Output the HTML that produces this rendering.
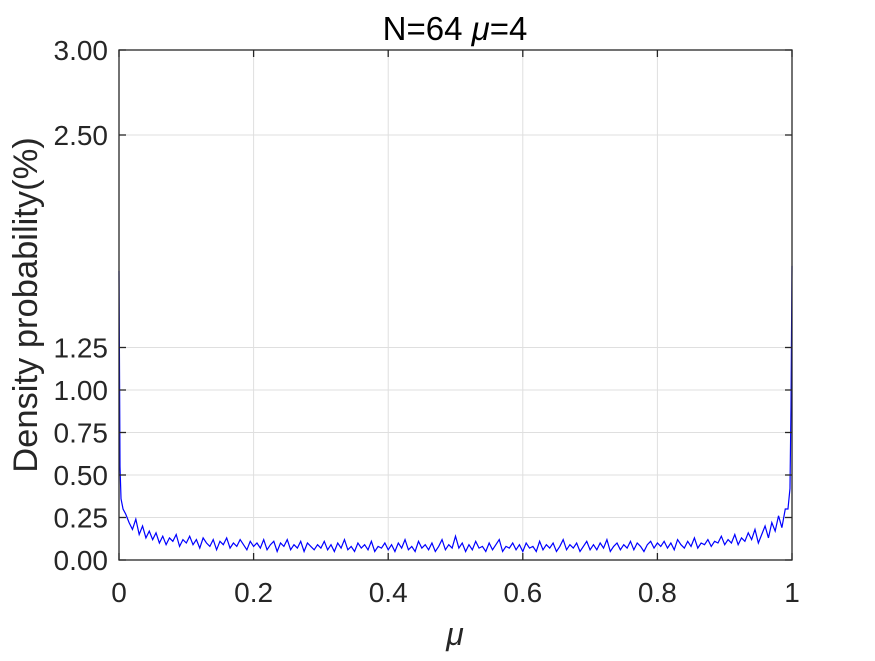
<!DOCTYPE html>
<html><head><meta charset="utf-8"><style>
body{margin:0;background:#fff;}
svg text{font-family:"Liberation Sans",sans-serif;fill:#262626;}
</style></head><body>
<svg id="chart" width="875" height="656" xmlns="http://www.w3.org/2000/svg">
<rect width="875" height="656" fill="#fff"/>
<g id="grid"></g>
<g id="series"></g>
<g id="axes"></g>
<text x="455" y="40" font-size="33" text-anchor="middle" style="fill:#000">N=64 <tspan font-style="italic">μ</tspan>=4</text>
<text x="455" y="645" font-size="32" font-style="italic" text-anchor="middle">μ</text>
<text transform="translate(37,305) rotate(-90)" font-size="34.5" text-anchor="middle">Density probability(%)</text>
</svg>
<script>
const xTicks=[0,0.2,0.4,0.6,0.8,1];
const xTickLabels=["0","0.2","0.4","0.6","0.8","1"];
const yTicks=[0,0.25,0.5,0.75,1,1.25,2.5,3];
const yTickLabels=["0.00","0.25","0.50","0.75","1.00","1.25","2.50","3.00"];
const leftEdgeX=[0,0.0015,0.003,0.006];
const leftEdgeY=[1.70,0.55,0.36,0.30];
const mainStart=0.01, mainStep=0.005;
const mainY=[.27,.22,.18,.24,.15,.20,.13,.17,.12,
.16,.10,.14,.09,.13,.11,.15,.08,.12,.10,
.14,.09,.12,.07,.13,.10,.08,.12,.06,.11,.09,.13,.07,.10,.08,.12,.09,.06,.11,.08,
.10,.07,.12,.06,.09,.11,.05,.10,.08,.12,.06,.09,.07,.11,.05,.10,.08,.06,.09,.07,
.11,.06,.09,.05,.10,.07,.12,.06,.08,.05,.10,.07,.09,.06,.11,.05,.08,.07,.10,.06,
.09,.05,.10,.07,.12,.06,.08,.05,.11,.07,.09,.06,.10,.05,.08,.12,.06,.09,.07,.14,
.07,.10,.05,.09,.06,.11,.07,.08,.05,.10,.06,.09,.12,.05,.08,.07,.10,.06,.09,.05,
.10,.07,.08,.05,.11,.06,.09,.07,.10,.05,.08,.12,.06,.09,.07,.10,.05,.08,.11,.06,
.09,.06,.10,.07,.12,.05,.08,.10,.06,.09,.07,.11,.06,.10,.08,.05,.09,.11,.07,.10,
.08,.11,.07,.10,.06,.12,.09,.07,.11,.08,.13,.07,.10,.09,.12,.08,.11,.10,.14,.09,
.12,.10,.15,.09,.13,.11,.16,.12,.18,.10,.15,.20,.13,.22,.17,.26,.19,.30];
const rightEdgeX=[0.994,0.997,0.9985,1];
const rightEdgeY=[0.30,0.42,0.90,1.73];

const L=119,R=792,T=50,B=560;
const xs=v=>L+(v-0)/(1-0)*(R-L);
const ys=v=>B-(v-0)/(3-0)*(B-T);
const NS="http://www.w3.org/2000/svg";
function mk(tag,attrs,parent){const e=document.createElementNS(NS,tag);for(const k in attrs)e.setAttribute(k,attrs[k]);parent.appendChild(e);return e;}
const grid=document.getElementById('grid'),axes=document.getElementById('axes'),series=document.getElementById('series');

xTicks.forEach((t,i)=>{
  const x=xs(t);
  if(t>0&&t<1){const g=mk('line',{x1:x,x2:x,y1:T,y2:B,stroke:'#dfdfdf','stroke-width':1},grid);
  
  }
  const tk=mk('line',{x1:x,x2:x,y1:B,y2:B-7,stroke:'#262626','stroke-width':1.3},axes);
  
  
  const tt=mk('line',{x1:x,x2:x,y1:T,y2:T+7,stroke:'#262626','stroke-width':1.3},axes);
  
  
  const lb=mk('text',{x:x,y:602,'font-size':28,'text-anchor':'middle'},axes);
  lb.textContent=xTickLabels[i];
  
  
});
yTicks.forEach((t,i)=>{
  const y=ys(t);
  if(t>0&&t<3){const g=mk('line',{x1:L,x2:R,y1:y,y2:y,stroke:'#dfdfdf','stroke-width':1},grid);
  
  }
  const tk=mk('line',{x1:L,x2:L+7,y1:y,y2:y,stroke:'#262626','stroke-width':1.3},axes);
  
  
  const tr=mk('line',{x1:R,x2:R-7,y1:y,y2:y,stroke:'#262626','stroke-width':1.3},axes);
  
  
  const lb=mk('text',{x:108,y:y+10,'font-size':28,'text-anchor':'end'},axes);
  lb.textContent=yTickLabels[i];
  
  
});
const box=mk('rect',{x:L,y:T,width:R-L,height:B-T,fill:'none',stroke:'#262626','stroke-width':1.3},axes);



const pts=[];
leftEdgeX.forEach((x,i)=>pts.push([x,leftEdgeY[i]]));
mainY.forEach((v,i)=>pts.push([mainStart+i*mainStep,v]));
rightEdgeX.forEach((x,i)=>pts.push([x,rightEdgeY[i]]));
const line=mk('polyline',{points:pts.map(p=>xs(p[0]).toFixed(2)+','+ys(p[1]).toFixed(2)).join(' '),fill:'none',stroke:'#0000ff','stroke-width':1.2},series);


</script>
</body></html>
